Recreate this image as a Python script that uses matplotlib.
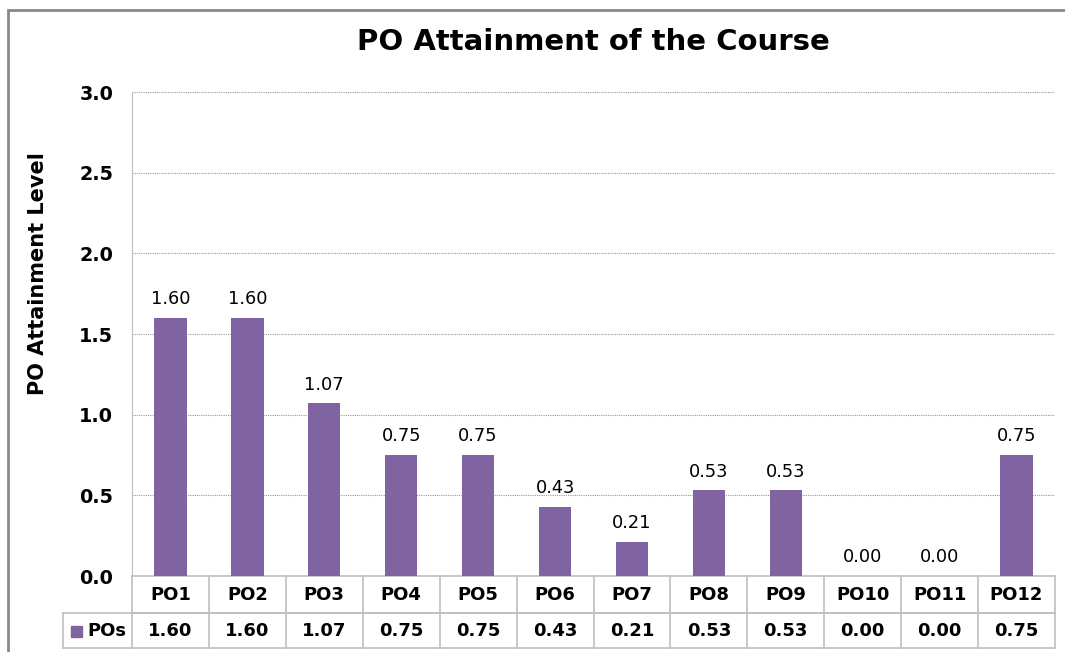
import matplotlib.pyplot as plt
from matplotlib.patches import Rectangle

plt.rcParams['font.family'] = ['DejaVu Sans']

categories = ['PO1', 'PO2', 'PO3', 'PO4', 'PO5', 'PO6', 'PO7', 'PO8', 'PO9', 'PO10', 'PO11', 'PO12']
values = [1.60, 1.60, 1.07, 0.75, 0.75, 0.43, 0.21, 0.53, 0.53, 0.00, 0.00, 0.75]
series_name = 'POs'
yticks = [0.0, 0.5, 1.0, 1.5, 2.0, 2.5, 3.0]

bar_color = '#8064A2'
line_grey = '#BFBFBF'

W, H = 1065, 652
fig = plt.figure(figsize=(W / 100, H / 100), dpi=100)

# outer chart border (cut off at right / bottom like the screenshot)
fig.patches.append(Rectangle((8 / W, -0.1), 1.1, (H - 10) / H + 0.1, transform=fig.transFigure,
                             fill=False, edgecolor='#888888', linewidth=2))

left, right, top, bottom = 132, 1055, 92, 576
ax = fig.add_axes([left / W, (H - bottom) / H, (right - left) / W, (bottom - top) / H])

n = len(categories)
x = list(range(n))
bars = ax.bar(x, values, width=0.42, color=bar_color, zorder=3)
ax.bar_label(bars, labels=[f'{v:.2f}' for v in values], padding=7, fontsize=12.8)

ax.set_xlim(-0.5, n - 0.5)
ax.set_ylim(0, 3.0)
ax.set_yticks(yticks)
ax.set_yticklabels([f'{t:.1f}' for t in yticks], fontsize=13.8, fontweight='bold')
ax.tick_params(axis='y', length=0, pad=13.5)
ax.set_xticks([])
ax.grid(axis='y', color='#999999', linestyle=(0, (1, 1)), linewidth=0.8, zorder=0)
for s in ['top', 'right', 'bottom']:
    ax.spines[s].set_visible(False)
ax.spines['left'].set_color(line_grey)

# y axis title sits a bit above the plot-area centre, like the original
fig.text(38 / W, (H - 274) / H, 'PO Attainment Level', rotation=90,
         ha='center', va='center', fontsize=15, fontweight='bold')

fig.text((left + right) / 2 / W, (H - 42) / H, 'PO Attainment of the Course',
         ha='center', va='center', fontsize=21, fontweight='bold')

# data table below the axis, drawn in data-x / pixel-y
tr = ax.get_xaxis_transform()
py = lambda p: (bottom - p) / (bottom - top)  # pixel row -> axes y
row1, row2, row3 = 576, 613, 648
lab_x = -0.5 - (left - 63) / ((right - left) / n)
lk = dict(color=line_grey, linewidth=1.2, transform=tr, clip_on=False)
for yy in [row1, row2]:
    ax.plot([-0.5, n - 0.5], [py(yy), py(yy)], **lk)
ax.plot([lab_x, n - 0.5], [py(row2), py(row2)], **lk)
ax.plot([lab_x, n - 0.5], [py(row3), py(row3)], **lk)
ax.plot([lab_x, lab_x], [py(row2), py(row3)], **lk)
for j in range(n + 1):
    ax.plot([j - 0.5, j - 0.5], [py(row1), py(row3)], **lk)
for j, c in enumerate(categories):
    ax.text(j, py((row1 + row2) / 2), c, transform=tr, ha='center', va='center',
            fontsize=13, fontweight='bold', clip_on=False)
    ax.text(j, py((row2 + row3) / 2), f'{values[j]:.2f}', transform=tr, ha='center',
            va='center', fontsize=13, fontweight='bold', clip_on=False)
ax.text(-0.5 - 0.07, py((row2 + row3) / 2), series_name, transform=tr, ha='right',
        va='center', fontsize=13, fontweight='bold', clip_on=False)

# legend key square in the series label cell
fig.patches.append(Rectangle((71 / W, (H - 637) / H), 11 / W, 11 / H, transform=fig.transFigure,
                             color=bar_color))

fig.savefig('out.png', dpi=100)
